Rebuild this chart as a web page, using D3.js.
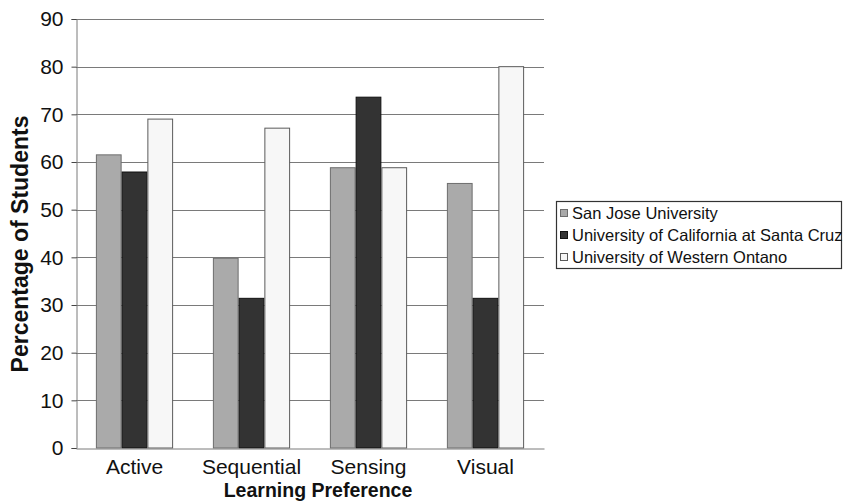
<!DOCTYPE html>
<html>
<head>
<meta charset="utf-8">
<script src="https://cdn.jsdelivr.net/npm/d3@7"></script>
<style>
  html, body { margin: 0; padding: 0; background: #fff; }
  svg { display: block; font-family: "Liberation Sans", Arial, Helvetica, sans-serif; }
</style>
</head>
<body>
<svg id="chart" width="843" height="504"></svg>
<script>
const categories = ["Active", "Sequential", "Sensing", "Visual"];
const seriesNames = ["San Jose University", "University of California at Santa Cruz", "University of Western Ontano"];
const sanJose = [61.5, 39.8, 58.8, 55.5];
const ucsc = [57.9, 31.4, 73.6, 31.4];
const westernOntario = [69.0, 67.1, 58.8, 80.0];
const yTicks = [0, 10, 20, 30, 40, 50, 60, 70, 80, 90];
const xTitle = "Learning Preference";
const yTitle = "Percentage of Students";

const seriesValues = [sanJose, ucsc, westernOntario];
const fills = ["#aaaaaa", "#333333", "#f7f7f7"];
const strokes = ["#6e6e6e", "#111111", "#5a5a5a"];

const svg = d3.select("#chart");
const plot = { left: 76, right: 544, top: 19, bottom: 448 };

const x0 = d3.scaleBand().domain(categories)
  .range([plot.left, plot.right]).paddingInner(0.34).paddingOuter(0.17);
const x1 = d3.scaleBand().domain(d3.range(seriesNames.length))
  .range([0, x0.bandwidth()]);
const y = d3.scaleLinear().domain([0, 90]).range([plot.bottom, plot.top]);

// gridlines
svg.append("g").selectAll("line").data(yTicks.filter(d => d > 0)).join("line")
  .attr("x1", plot.left).attr("x2", plot.right)
  .attr("y1", d => Math.round(y(d)) + 0.5).attr("y2", d => Math.round(y(d)) + 0.5)
  .attr("stroke", "#7a7a7a").attr("stroke-width", 1);

// bars
const data = categories.map((c, i) => ({ c, vals: seriesValues.map(s => s[i]) }));
svg.append("g").selectAll("g").data(data).join("g")
  .attr("transform", d => `translate(${x0(d.c)},0)`)
  .selectAll("rect").data(d => d.vals.map((v, k) => ({ v, k }))).join("rect")
  .attr("x", d => x1(d.k) + 0.5)
  .attr("width", x1.bandwidth() - 1)
  .attr("y", d => y(d.v))
  .attr("height", d => y(0) - y(d.v))
  .attr("fill", d => fills[d.k])
  .attr("stroke", d => strokes[d.k])
  .attr("stroke-width", 1);

// y axis
const yAxis = d3.axisLeft(y).tickValues(yTicks).tickSize(5).tickPadding(8).tickFormat(d3.format("d"));
const gy = svg.append("g").attr("transform", `translate(${plot.left + 0.5},0)`).call(yAxis);
gy.select(".domain").attr("stroke", "#7a7a7a");
gy.selectAll(".tick line").attr("stroke", "#444");
gy.selectAll(".tick text").attr("font-size", 21).attr("fill", "#111")
  .attr("font-family", "'Liberation Sans', Arial, sans-serif");

// x axis
const xAxis = d3.axisBottom(x0).tickSize(0).tickPadding(11);
const gx = svg.append("g").attr("transform", `translate(0,${plot.bottom + 0.5})`).call(xAxis);
gx.select(".domain").attr("stroke", "#7a7a7a");
gx.selectAll(".tick text").attr("font-size", 21).attr("fill", "#111")
  .attr("font-family", "'Liberation Sans', Arial, sans-serif");

// titles
svg.append("text").attr("x", (plot.left + plot.right) / 2 + 8).attr("y", 497)
  .attr("text-anchor", "middle").attr("font-weight", "bold").attr("font-size", 19.5)
  .attr("fill", "#111").text(xTitle);
svg.append("text").attr("transform", `translate(28,244) rotate(-90)`)
  .attr("text-anchor", "middle").attr("font-weight", "bold").attr("font-size", 23)
  .attr("fill", "#111").text(yTitle);

// legend
const lg = svg.append("g");
lg.append("rect").attr("x", 556.5).attr("y", 201.5).attr("width", 285).attr("height", 67)
  .attr("fill", "#fff").attr("stroke", "#333").attr("stroke-width", 1.2);
const items = lg.selectAll("g.item").data(seriesNames).join("g")
  .attr("transform", (d, i) => `translate(0,${213 + i * 22})`);
items.append("rect").attr("x", 560.5).attr("y", -3.5).attr("width", 7).attr("height", 7)
  .attr("fill", (d, i) => fills[i]).attr("stroke", (d, i) => strokes[i]);
items.append("text").attr("x", 572).attr("y", 0).attr("dy", "0.35em")
  .attr("font-size", 16.5).attr("fill", "#111").text(d => d);
</script>
</body>
</html>
